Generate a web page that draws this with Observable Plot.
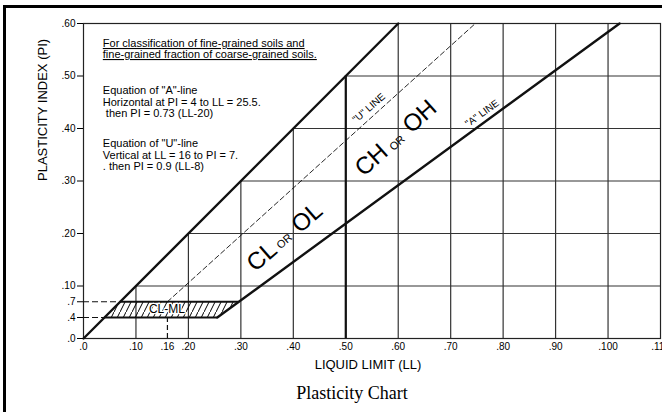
<!DOCTYPE html>
<html><head><meta charset="utf-8">
<script src="https://cdn.jsdelivr.net/npm/d3@7"></script>
<script src="https://cdn.jsdelivr.net/npm/@observablehq/plot@0.6"></script>
<style>
html,body{margin:0;padding:0;background:#fff;}
#wrap{position:relative;width:662px;height:412px;overflow:hidden;}
#border{position:absolute;left:3px;top:5px;right:-10px;bottom:-10px;border-top:3px solid #000;border-left:3px solid #000;}
#chart{position:absolute;left:0;top:0;}
#caption{position:absolute;top:384px;left:352px;transform:translateX(-50%);font-family:"Liberation Serif","Times New Roman",serif;font-size:18px;line-height:18px;white-space:nowrap;color:#000;}
</style></head>
<body><div id="wrap"><div id="border"></div><div id="chart"></div><div id="caption">Plasticity Chart</div></div>
<script>
// ---- data ----
const xTicks = [0, 10, 16, 20, 30, 40, 50, 60, 70, 80, 90, 100, 110];
const xTickLabels = [".0", ".10", ".16", ".20", ".30", ".40", ".50", ".60", ".70", ".80", ".90", ".100", ".110"];
const yTicks = [0, 4, 7, 10, 20, 30, 40, 50, 60];
const yTickLabels = [".0", ".4", ".7", ".10", ".20", ".30", ".40", ".50", ".60"];
const gridLL = [10, 20, 30, 40, 50, 60, 70, 80, 90, 100];
const gridPI = [10, 20, 30, 40, 50];
const upperLine = [{LL: 0, PI: 0}, {LL: 60, PI: 60}];          // PI = LL
const aLine = [{LL: 25.5, PI: 4}, {LL: 102.2, PI: 60}];         // PI = 0.73 (LL-20)
const uLine = [{LL: 16, PI: 7}, {LL: 74.7, PI: 60}];            // PI = 0.9 (LL-8)
const clmlZone = [{PI: 4, left: 4, right: 25.5}, {PI: 7, left: 7, right: 29.6}];
const clmlPI = [4, 7];
const uVerticalLL = [16];
const xTitle = "LIQUID LIMIT (LL)";
const yTitle = "PLASTICITY INDEX (PI)";
const noteLines = ["For classification of fine-grained soils and", "fine-grained fraction of coarse-grained soils."];
const notePI = [56.2, 54.1];
const eqLines = ['Equation of "A"-line', 'Horizontal at PI = 4 to LL = 25.5.', '\u00a0then PI = 0.73 (LL-20)',
                 'Equation of "U"-line', 'Vertical at LL = 16 to PI = 7.', '. then PI = 0.9 (LL-8)'];
const eqPI = [47.2, 44.9, 42.8, 37.1, 34.8, 32.7];
const textLL = 3.68;
const zoneLabels = [
  {text: "CL", LL: 34.0, PI: 15.6, size: 24, rot: -41},
  {text: "OR", LL: 38.3, PI: 18.5, size: 11, rot: -41},
  {text: "OL", LL: 42.6, PI: 23.0, size: 24, rot: -41},
  {text: "CH", LL: 54.9, PI: 34.0, size: 24, rot: -42},
  {text: "OR", LL: 59.8, PI: 37.2, size: 11, rot: -42},
  {text: "OH", LL: 64.1, PI: 42.3, size: 24, rot: -42},
  {text: "\"U\" LINE", LL: 54.4, PI: 43.9, size: 10, rot: -41},
  {text: "\"A\" LINE", LL: 76.0, PI: 42.9, size: 10, rot: -36}
];
const clmlLabel = [{text: "CL-ML", LL: 15.9, PI: 5.65}];

const font = "Liberation Sans, Arial, Helvetica, sans-serif";
const ink = "#111";

const svg = Plot.plot({
  width: 662, height: 375,
  marginLeft: 83, marginRight: 2, marginTop: 23, marginBottom: 37,
  x: {domain: [0, 110]},
  y: {domain: [0, 60]},
  style: {fontFamily: font, fontSize: "10px", color: "#000", background: "transparent"},
  marks: [
    // grid bounded by PI = LL
    Plot.ruleX(gridLL, {x: d => d, y1: 0, y2: d => Math.min(d, 60), stroke: "#333", strokeWidth: 1.2}),
    Plot.ruleY(gridPI, {y: d => d, x1: d => d, x2: 110, stroke: "#333", strokeWidth: 1.2}),
    Plot.ruleX([50], {x: d => d, y1: 0, y2: 50, stroke: ink, strokeWidth: 2.2}),
    Plot.frame({stroke: "#222", strokeWidth: 1.2}),
    // CL-ML hatched zone
    Plot.areaX(clmlZone, {y: "PI", x1: "left", x2: "right", fill: "url(#hatch)"}),
    Plot.ruleY(clmlZone, {y: "PI", x1: "left", x2: "right", stroke: ink, strokeWidth: 1.8}),
    // dashed guides
    Plot.ruleY(clmlPI, {y: d => d, x1: 0, x2: d => d, stroke: ink, strokeWidth: 1.2, strokeDasharray: "6,3"}),
    Plot.ruleX(uVerticalLL, {x: d => d, y1: 0, y2: 4, stroke: ink, strokeWidth: 1.2, strokeDasharray: "5,3"}),
    Plot.line(uLine, {x: "LL", y: "PI", stroke: ink, strokeWidth: 0.9, strokeDasharray: "5,3"}),
    // heavy lines
    Plot.line(upperLine, {x: "LL", y: "PI", stroke: ink, strokeWidth: 2.4}),
    Plot.line(aLine, {x: "LL", y: "PI", stroke: ink, strokeWidth: 2.4}),
    // axes
    Plot.axisX({ticks: xTicks, tickFormat: d => xTickLabels[xTicks.indexOf(d)], tickSize: 0, tickPadding: 4, label: null, fontSize: 10}),
    Plot.axisY({ticks: yTicks, tickFormat: d => yTickLabels[yTicks.indexOf(d)], tickSize: 6, tickPadding: 2, label: null, fontSize: 10}),
    Plot.text([xTitle], {frameAnchor: "bottom", dx: -4, dy: 26, fontSize: 13, lineAnchor: "middle"}),
    Plot.text([yTitle], {frameAnchor: "left", dx: -41, rotate: -90, fontSize: 13, lineAnchor: "middle"}),
    // notes
    Plot.text(noteLines, {x: textLL, y: (d, i) => notePI[i], text: d => d, textAnchor: "start", lineAnchor: "middle", fontSize: 11}),
    Plot.text(eqLines, {x: textLL, y: (d, i) => eqPI[i], text: d => d, textAnchor: "start", lineAnchor: "middle", fontSize: 11}),
    // zone labels
    Plot.text(zoneLabels, {x: "LL", y: "PI", text: "text", fontSize: "size", rotate: "rot", lineAnchor: "middle"}),
    Plot.text(clmlLabel, {x: "LL", y: "PI", text: "text", fontSize: 12, lineAnchor: "middle", stroke: "white", strokeWidth: 2.5, fill: "#000"})
  ]
});

const root = d3.select(svg);
const pat = root.insert("defs", ":first-child").append("pattern")
  .attr("id", "hatch").attr("patternUnits", "userSpaceOnUse")
  .attr("width", 6).attr("height", 12);
pat.append("path").attr("d", "M-1,14L7,-2").attr("stroke", "#000").attr("stroke-width", 1);
root.selectAll("text").filter(function() { return noteLines.includes(this.textContent); })
  .style("text-decoration", "underline");
document.getElementById("chart").appendChild(svg);
</script>
</body></html>
